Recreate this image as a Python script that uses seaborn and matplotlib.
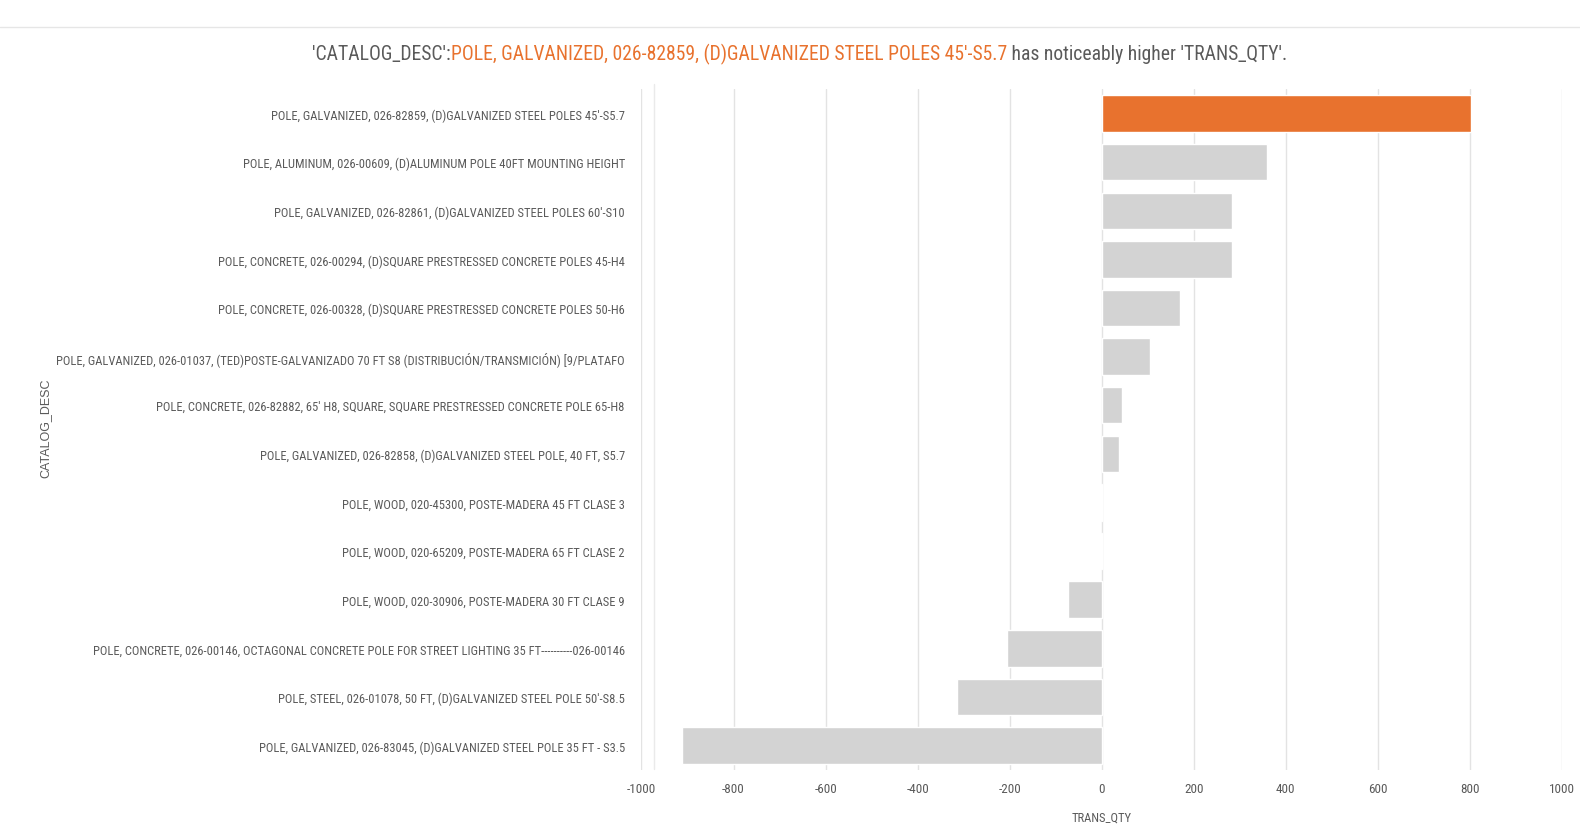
import matplotlib
matplotlib.use("Agg")
import matplotlib.pyplot as plt
import seaborn as sns
import pandas as pd
from matplotlib.lines import Line2D
from matplotlib import font_manager

# catalog items and quantities
catalog_desc = [
    "POLE, GALVANIZED, 026-82859, (D)GALVANIZED STEEL POLES 45'-S5.7",
    "POLE, ALUMINUM, 026-00609, (D)ALUMINUM POLE 40FT MOUNTING HEIGHT",
    "POLE, GALVANIZED, 026-82861, (D)GALVANIZED STEEL POLES 60'-S10",
    "POLE, CONCRETE, 026-00294, (D)SQUARE PRESTRESSED CONCRETE POLES 45-H4",
    "POLE, CONCRETE, 026-00328, (D)SQUARE PRESTRESSED CONCRETE POLES 50-H6",
    "POLE, GALVANIZED, 026-01037, (TED)POSTE-GALVANIZADO 70 FT S8 (DISTRIBUCIÓN/TRANSMICIÓN) [9/PLATAFO",
    "POLE, CONCRETE, 026-82882, 65' H8, SQUARE, SQUARE PRESTRESSED CONCRETE POLE 65-H8",
    "POLE, GALVANIZED, 026-82858, (D)GALVANIZED STEEL POLE, 40 FT, S5.7",
    "POLE, WOOD, 020-45300, POSTE-MADERA 45 FT CLASE 3",
    "POLE, WOOD, 020-65209, POSTE-MADERA 65 FT CLASE 2",
    "POLE, WOOD, 020-30906, POSTE-MADERA 30 FT CLASE 9",
    "POLE, CONCRETE, 026-00146, OCTAGONAL CONCRETE POLE FOR STREET LIGHTING 35 FT----------026-00146",
    "POLE, STEEL, 026-01078, 50 FT, (D)GALVANIZED STEEL POLE 50'-S8.5",
    "POLE, GALVANIZED, 026-83045, (D)GALVANIZED STEEL POLE 35 FT - S3.5",
]
trans_qty = [803, 358, 283, 283, 170, 104, 44, 38, -2, -1, -73, -206, -314, -911]
highlight = catalog_desc[0]

orange = "#E8722E"
grey_bar = "#D3D3D3"
text_grey = "#5A5A5A"

df = pd.DataFrame({"CATALOG_DESC": catalog_desc, "TRANS_QTY": trans_qty})
colors = [orange if d == highlight else grey_bar for d in catalog_desc]

sns.set_style("white")
# use a narrow face if one is installed, otherwise shrink the text
names = {f.name for f in font_manager.fontManager.ttflist}
narrow = [n for n in ["Liberation Sans Narrow", "Roboto Condensed", "Open Sans Condensed"] if n in names]
if narrow:
    fam = [narrow[0], "DejaVu Sans"]
    k = 0.945
else:
    fam = ["Liberation Sans", "DejaVu Sans"]
    k = 0.75
plt.rcParams["font.family"] = fam
plt.rcParams["axes.unicode_minus"] = False

fig = plt.figure(figsize=(15.8, 8.28), dpi=100)
ax = fig.add_axes([0.406, 0.069, 0.5826, 0.822])

sns.barplot(data=df, x="TRANS_QTY", y="CATALOG_DESC", hue="CATALOG_DESC",
            palette=colors, legend=False, width=0.75, saturation=1, ax=ax)

ax.set_xlim(-1000, 1000)
ax.set_xticks(range(-1000, 1001, 200))
ax.grid(axis="x", color="#E3E3E3", linewidth=1)
ax.set_axisbelow(True)
for s in ax.spines.values():
    s.set_visible(False)
ax.tick_params(axis="x", colors=text_grey, labelsize=10 * k, length=0, pad=9)
ax.tick_params(axis="y", colors=text_grey, labelsize=9.5 * k, length=0, pad=12)
ax.set_xlabel("TRANS_QTY", color=text_grey, fontsize=9.5 * k, labelpad=11)
ax.set_ylabel("")
fig.text(0.029, 0.483, "CATALOG_DESC", rotation=90, color=text_grey,
         fontsize=9, ha="center", va="center",
         family=["Liberation Sans", "DejaVu Sans"])

# thin separators
fig.add_artist(Line2D([0.0, 1.0], [0.966, 0.966], color="#E6E6E6", lw=1))
fig.add_artist(Line2D([0.414, 0.414], [0.07, 0.897], color="#EAEAEA", lw=1))

# multi-colour title
parts = [("'CATALOG_DESC':", text_grey),
         ("POLE, GALVANIZED, 026-82859, (D)GALVANIZED STEEL POLES 45'-S5.7", orange),
         (" has noticeably higher 'TRANS_QTY'.", text_grey)]
renderer = fig.canvas.get_renderer()
objs = []
for txt, col in parts:
    objs.append(fig.text(0, 0.934, txt, color=col, fontsize=15 * k, va="center"))
widths = [o.get_window_extent(renderer).width / fig.bbox.width for o in objs]
x = 0.506 - sum(widths) / 2
for o, w in zip(objs, widths):
    o.set_x(x)
    x += w

fig.savefig("out.png", dpi=100)
